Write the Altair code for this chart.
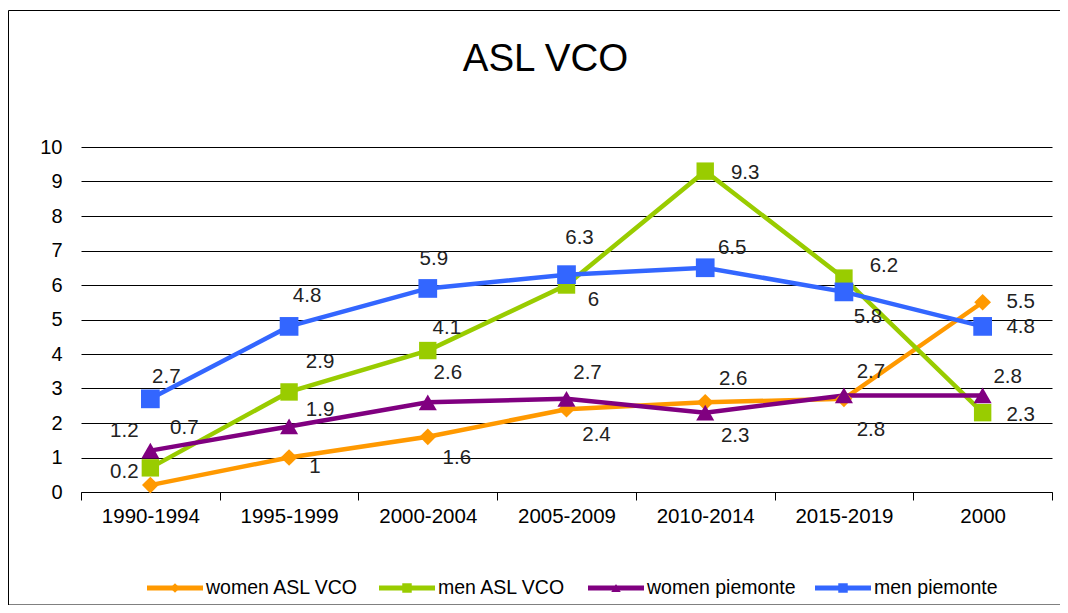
import altair as alt
import pandas as pd

categories = ["1990-1994", "1995-1999", "2000-2004", "2005-2009", "2010-2014", "2015-2019", "2000"]
series_names = ["women ASL VCO", "men ASL VCO", "women piemonte", "men piemonte"]

women_asl_vco = [0.2, 1.0, 1.6, 2.4, 2.6, 2.7, 5.5]
men_asl_vco = [0.7, 2.9, 4.1, 6.0, 9.3, 6.2, 2.3]
women_piemonte = [1.2, 1.9, 2.6, 2.7, 2.3, 2.8, 2.8]
men_piemonte = [2.7, 4.8, 5.9, 6.3, 6.5, 5.8, 4.8]

# label placement (pixel offsets of each data label from its point)
label_dx = [
    [-26, 26, 29, 30, 28, 27, 38],
    [34, 31, 19, 27, 40, 40, 38],
    [-26, 31, 20, 21, 30, 27, 25],
    [16, 18, 6, 13, 27, 24, 38],
]
label_dy = [
    [-13, 9, 21, 26, -23, -27, 0],
    [-40, -30, -23, 15, 2, -12, 2],
    [-20, -16, -29, -26, 23, 35, -18],
    [-22, -30, -29, -37, -20, 25, 1],
]

colors = ["#FF9900", "#99CC00", "#800080", "#3366FF"]
shapes = ["diamond", "square", "triangle-up", "square"]
sizes = [280, 350, 350, 350]

# legend layout (left edge of each legend entry's line key, in plot pixels)
legend_left = [66, 298, 507, 734]
legend_y = 441
legend_key_len = 56

rows = []
for si, (name, vals) in enumerate(zip(series_names,
                                       [women_asl_vco, men_asl_vco, women_piemonte, men_piemonte])):
    for ci, (cat, v) in enumerate(zip(categories, vals)):
        rows.append({
            "period": cat, "series": name, "marker": name, "value": v, "order": si * 10 + ci,
            "ldx": label_dx[si][ci], "ldy": label_dy[si][ci],
            "label": f"{v:g}",
        })
df = pd.DataFrame(rows)

FONT = "Liberation Sans"

x_enc = alt.X("period:N", sort=categories, title=None,
              scale=alt.Scale(type="band", paddingInner=0, paddingOuter=0),
              axis=alt.Axis(labelAngle=0, labelFontSize=20.5, labelFont=FONT, labelColor="#000",
                            tickBand="extent", tickSize=8, tickColor="#000", domainColor="#000",
                            labelPadding=6, grid=False))
y_enc = alt.Y("value:Q", title=None,
              scale=alt.Scale(domain=[0, 10], nice=False),
              axis=alt.Axis(values=list(range(11)), labelFontSize=20, labelFont=FONT, labelColor="#000",
                            ticks=False, domain=False, gridColor="#000", gridOpacity=1, gridWidth=1,
                            labelPadding=19))

base = alt.Chart(df)

lines = base.mark_line(strokeWidth=4.5).encode(
    x=x_enc, y=y_enc,
    stroke=alt.Stroke("marker:N", scale=alt.Scale(domain=series_names, range=colors), legend=None),
    detail="marker:N",
    order=alt.Order("order:Q"),
)

points = base.mark_point(filled=True, opacity=1).encode(
    x=x_enc, y=y_enc,
    color=alt.Color("series:N", scale=alt.Scale(domain=series_names, range=colors), legend=None),
    shape=alt.Shape("marker:N", scale=alt.Scale(domain=series_names, range=shapes), legend=None),
    size=alt.Size("marker:N", scale=alt.Scale(domain=series_names, range=sizes), legend=None),
    order=alt.Order("order:Q"),
)

labels = base.mark_text(fontSize=20.5, font=FONT, color="#222", align="center", baseline="middle",
                        dx=alt.expr("datum.ldx"), dy=alt.expr("datum.ldy")).encode(
    x=x_enc, y=y_enc, text="label:N",
)

one = pd.DataFrame({"a": [0]})

frame = alt.Chart(one).mark_rect(fill=None, stroke="#000", strokeWidth=1).encode(
    x=alt.value(-72.5), x2=alt.value(1010), y=alt.value(-136.5), y2=alt.value(458),
)

# legend entries (line key with small marker, then the series name)
legend_layers = []
for name, col, shp, left in zip(series_names, colors, shapes, legend_left):
    legend_layers.append(
        alt.Chart(one).mark_rule(strokeWidth=5, color=col).encode(
            x=alt.value(left), x2=alt.value(left + legend_key_len), y=alt.value(legend_y))
    )
    legend_layers.append(
        alt.Chart(one).mark_point(filled=True, opacity=1, color=col).encode(
            x=alt.value(left + legend_key_len / 2), y=alt.value(legend_y),
            shape=alt.value(shp), size=alt.value(90))
    )
    legend_layers.append(
        alt.Chart(one).mark_text(fontSize=19.5, font=FONT, color="#000", align="left",
                                 baseline="middle").encode(
            x=alt.value(left + legend_key_len + 3), y=alt.value(legend_y), text=alt.value(name))
    )

chart = alt.layer(frame, lines, points, labels, *legend_layers).properties(
    width=971, height=345,
    title=alt.TitleParams("ASL VCO", fontSize=38.5, font=FONT, fontWeight="normal", color="#000",
                          anchor="middle", frame="group", baseline="alphabetic",
                          dx=-21, offset=-99),
    autosize=alt.AutoSizeParams(type="none"),
    padding={"left": 73, "top": 139, "right": 8, "bottom": 113},
).configure(background="white").configure_view(stroke=None)

chart.save("out.html", embed_options={"renderer": "svg", "actions": False})
